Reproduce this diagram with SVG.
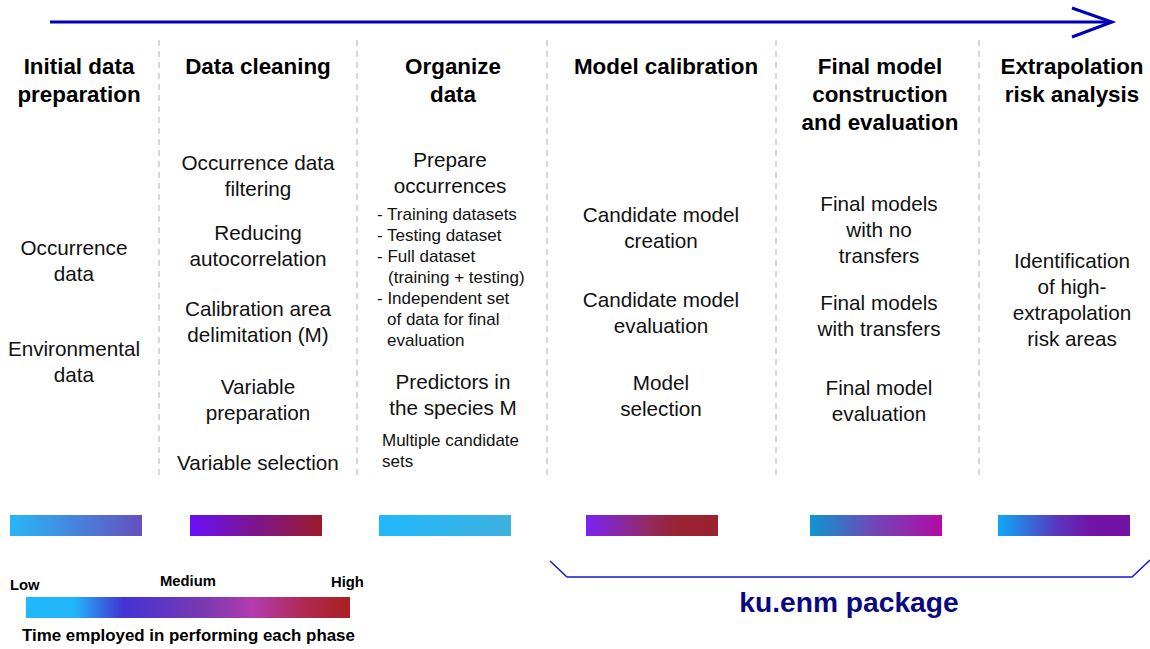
<svg xmlns="http://www.w3.org/2000/svg" width="1150" height="649" viewBox="0 0 1150 649">
<style>
.h{font-family:"Liberation Sans",Arial,sans-serif;font-weight:bold;font-size:22.4px;fill:#000;text-anchor:middle}
.b{font-family:"Liberation Sans",Arial,sans-serif;font-size:20.7px;fill:#111;text-anchor:middle}
.s{font-family:"Liberation Sans",Arial,sans-serif;font-size:17px;fill:#111}
.l{font-family:"Liberation Sans",Arial,sans-serif;font-weight:bold;font-size:14.8px;fill:#000}
.sep{stroke:#b0b0b0;stroke-width:1;stroke-dasharray:6 5;fill:none}
</style>
<defs>
<linearGradient id="g1"><stop offset="0" stop-color="#27b7f8"/><stop offset="1" stop-color="#6650c0"/></linearGradient>
<linearGradient id="g2"><stop offset="0" stop-color="#6a10f8"/><stop offset="0.45" stop-color="#7a1494"/><stop offset="1" stop-color="#9c1a28"/></linearGradient>
<linearGradient id="g3"><stop offset="0" stop-color="#20b9fc"/><stop offset="1" stop-color="#3eb0df"/></linearGradient>
<linearGradient id="g4"><stop offset="0" stop-color="#7b24f6"/><stop offset="0.5" stop-color="#942a58"/><stop offset="0.7" stop-color="#9a2232"/><stop offset="1" stop-color="#9a2230"/></linearGradient>
<linearGradient id="g5"><stop offset="0" stop-color="#0e96d0"/><stop offset="0.45" stop-color="#6a4cb8"/><stop offset="1" stop-color="#b40aa6"/></linearGradient>
<linearGradient id="g6"><stop offset="0" stop-color="#0ea8f8"/><stop offset="0.45" stop-color="#5a36be"/><stop offset="0.7" stop-color="#7214a6"/><stop offset="1" stop-color="#7412a4"/></linearGradient>
<linearGradient id="gl"><stop offset="0" stop-color="#20b9fd"/><stop offset="0.15" stop-color="#22b4f8"/><stop offset="0.3" stop-color="#4432d4"/><stop offset="0.55" stop-color="#7a3ab0"/><stop offset="0.7" stop-color="#b23cb0"/><stop offset="0.85" stop-color="#b02a55"/><stop offset="1" stop-color="#a8201e"/></linearGradient>
</defs>

<g id="timeline">
<line x1="50" y1="22" x2="1111" y2="22" stroke="#0000b8" stroke-width="3"/>
<polyline points="1072,8 1112,22 1072,37" fill="none" stroke="#0000b8" stroke-width="3"/>
</g>

<g id="separators">
<line class="sep" x1="159" y1="40" x2="159" y2="476"/>
<line class="sep" x1="357" y1="40" x2="357" y2="476"/>
<line class="sep" x1="547" y1="40" x2="547" y2="476"/>
<line class="sep" x1="776" y1="40" x2="776" y2="476"/>
<line class="sep" x1="979" y1="40" x2="979" y2="476"/>
</g>

<g id="col1">
<text class="h" x="79" y="74">Initial data</text>
<text class="h" x="79" y="102">preparation</text>
<text class="b" x="74" y="255">Occurrence</text>
<text class="b" x="74" y="281">data</text>
<text class="b" x="74" y="356">Environmental</text>
<text class="b" x="74" y="382">data</text>
<rect x="10" y="515" width="132" height="21" fill="url(#g1)"/>
</g>

<g id="col2">
<text class="h" x="258" y="74">Data cleaning</text>
<text class="b" x="258" y="170">Occurrence data</text>
<text class="b" x="258" y="196">filtering</text>
<text class="b" x="258" y="240">Reducing</text>
<text class="b" x="258" y="266">autocorrelation</text>
<text class="b" x="258" y="316">Calibration area</text>
<text class="b" x="258" y="342">delimitation (M)</text>
<text class="b" x="258" y="394">Variable</text>
<text class="b" x="258" y="420">preparation</text>
<text class="b" x="258" y="470">Variable selection</text>
<rect x="190" y="515" width="132" height="21" fill="url(#g2)"/>
</g>

<g id="col3">
<text class="h" x="453" y="74">Organize</text>
<text class="h" x="453" y="102">data</text>
<text class="b" x="450" y="167">Prepare</text>
<text class="b" x="450" y="193">occurrences</text>
<text class="s" x="377" y="220">- Training datasets</text>
<text class="s" x="377" y="241">- Testing dataset</text>
<text class="s" x="377" y="262">- Full dataset</text>
<text class="s" x="388" y="283">(training + testing)</text>
<text class="s" x="377" y="304">- Independent set</text>
<text class="s" x="387" y="325">of data for final</text>
<text class="s" x="387" y="346">evaluation</text>
<text class="b" x="453" y="389">Predictors in</text>
<text class="b" x="453" y="415">the species M</text>
<text class="s" x="382" y="446">Multiple candidate</text>
<text class="s" x="382" y="467">sets</text>
<rect x="379" y="515" width="132" height="21" fill="url(#g3)"/>
</g>

<g id="col4">
<text class="h" x="666" y="74">Model calibration</text>
<text class="b" x="661" y="222">Candidate model</text>
<text class="b" x="661" y="248">creation</text>
<text class="b" x="661" y="307">Candidate model</text>
<text class="b" x="661" y="333">evaluation</text>
<text class="b" x="661" y="390">Model</text>
<text class="b" x="661" y="416">selection</text>
<rect x="586" y="515" width="132" height="21" fill="url(#g4)"/>
</g>

<g id="col5">
<text class="h" x="880" y="74">Final model</text>
<text class="h" x="880" y="102">construction</text>
<text class="h" x="880" y="130">and evaluation</text>
<text class="b" x="879" y="211">Final models</text>
<text class="b" x="879" y="237">with no</text>
<text class="b" x="879" y="263">transfers</text>
<text class="b" x="879" y="310">Final models</text>
<text class="b" x="879" y="336">with transfers</text>
<text class="b" x="879" y="395">Final model</text>
<text class="b" x="879" y="421">evaluation</text>
<rect x="810" y="515" width="132" height="21" fill="url(#g5)"/>
</g>

<g id="col6">
<text class="h" x="1072" y="74">Extrapolation</text>
<text class="h" x="1072" y="102">risk analysis</text>
<text class="b" x="1072" y="268">Identification</text>
<text class="b" x="1072" y="294">of high-</text>
<text class="b" x="1072" y="320">extrapolation</text>
<text class="b" x="1072" y="346">risk areas</text>
<rect x="998" y="515" width="132" height="21" fill="url(#g6)"/>
</g>

<g id="legend">
<text class="l" x="10" y="590">Low</text>
<text class="l" x="160" y="586">Medium</text>
<text class="l" x="331" y="587">High</text>
<rect x="26" y="597" width="324" height="21" fill="url(#gl)"/>
<text class="l" x="22" y="641" style="font-size:16.9px">Time employed in performing each phase</text>
</g>

<g id="package">
<polyline points="550,561 567,577 1132,577 1150,560" fill="none" stroke="#1818c8" stroke-width="1.5"/>
<text x="849" y="612" style="font-family:'Liberation Sans',Arial,sans-serif;font-weight:bold;font-size:28.2px;fill:#0a0a80;text-anchor:middle">ku.enm package</text>
</g>
</svg>
